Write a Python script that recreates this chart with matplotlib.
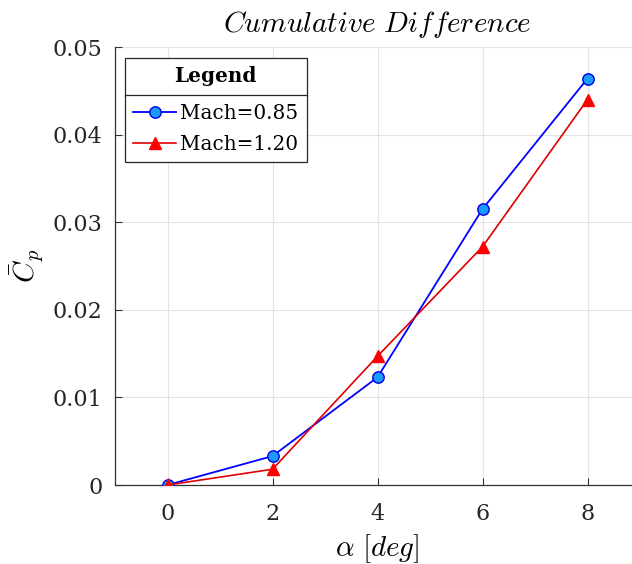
import matplotlib
matplotlib.use("Agg")
import matplotlib.pyplot as plt
from matplotlib.lines import Line2D

alpha_deg = [0, 2, 4, 6, 8]
cp_mach085 = [0.0, 0.0033, 0.0123, 0.0315, 0.0464]
cp_mach120 = [0.0, 0.0018, 0.0147, 0.0272, 0.0440]
series_labels = ["Mach=0.85", "Mach=1.20"]
y_ticks = [0, 0.01, 0.02, 0.03, 0.04, 0.05]
y_tick_labels = ["0", "0.01", "0.02", "0.03", "0.04", "0.05"]

plt.rcParams["mathtext.fontset"] = "cm"
tick_font = "DejaVu Serif"

W, H = 632, 564
fig = plt.figure(figsize=(W / 100, H / 100), dpi=100)
# axes box: x from 115 px to 640 px (right side runs past the canvas), y from 47 to 485 px
ax = fig.add_axes([115 / W, (H - 485) / H, (640 - 115) / W, (485 - 47) / H])

ax.plot(alpha_deg, cp_mach085, "-o", color=(0, 0, 1), lw=1.3,
        markerfacecolor=(0.1, 0.6, 1.0), markeredgecolor=(0, 0, 0.9),
        markeredgewidth=1.0, markersize=8.2, label=series_labels[0], zorder=3)
ax.plot(alpha_deg, cp_mach120, "-^", color=(0.88, 0, 0), lw=1.2,
        markerfacecolor=(1, 0, 0), markeredgecolor=(1, 0, 0),
        markersize=9, label=series_labels[1], zorder=3)

ax.set_xlim(-1, 9)
ax.set_ylim(0, 0.05)
ax.set_xticks([0, 2, 4, 6, 8])
ax.set_yticks(y_ticks)
ax.set_yticklabels(y_tick_labels)
for lab in ax.get_xticklabels() + ax.get_yticklabels():
    lab.set_fontfamily(tick_font)
    lab.set_fontsize(16)
    lab.set_color((0.15, 0.15, 0.15))

ax.grid(True, color=(0.89, 0.89, 0.89), lw=0.8)
ax.set_axisbelow(True)
for side in ("top", "right"):
    ax.spines[side].set_visible(False)
for side in ("left", "bottom"):
    ax.spines[side].set_color((0.2, 0.2, 0.2))
    ax.spines[side].set_linewidth(0.9)
ax.tick_params(direction="in", length=5, width=0.8, color=(0.2, 0.2, 0.2))
ax.tick_params(axis="x", pad=13)
ax.tick_params(axis="y", pad=9)

ax.set_title(r"$Cumulative\ Difference$", fontsize=21, pad=11)
ax.set_xlabel(r"$\alpha\ [deg]$", fontsize=21, labelpad=5)
ax.set_ylabel(r"$\bar{C}_p$", fontsize=21, labelpad=5)

leg_fs = 14.4
leg = ax.legend(loc="upper left", bbox_to_anchor=(10 / 525, 1 - 11 / 438),
                title="Legend", fancybox=False, framealpha=1, edgecolor=(0.15, 0.15, 0.15),
                prop={"family": tick_font, "size": leg_fs}, handlelength=2.15,
                handletextpad=0.2, borderpad=0.41, labelspacing=0.6, borderaxespad=0)
leg.get_title().set_fontweight("bold")
leg.get_title().set_fontfamily(tick_font)
leg.get_title().set_fontsize(leg_fs)
leg.get_frame().set_linewidth(0.9)
# extra room between the legend title and its entries
leg._legend_box.sep = 12.6

fig.canvas.draw()
r = fig.canvas.get_renderer()
fb = leg.get_frame().get_window_extent(r)
tb = leg.get_title().get_window_extent(r)
hb = leg.get_texts()[0].get_window_extent(r)
ysep = (0.5 * (tb.y0 + hb.y1)) / H
fig.add_artist(Line2D([fb.x0 / W, fb.x1 / W], [ysep, ysep], color=(0.15, 0.15, 0.15),
                      lw=0.9, transform=fig.transFigure, zorder=10))

fig.savefig("out.png", dpi=100)
